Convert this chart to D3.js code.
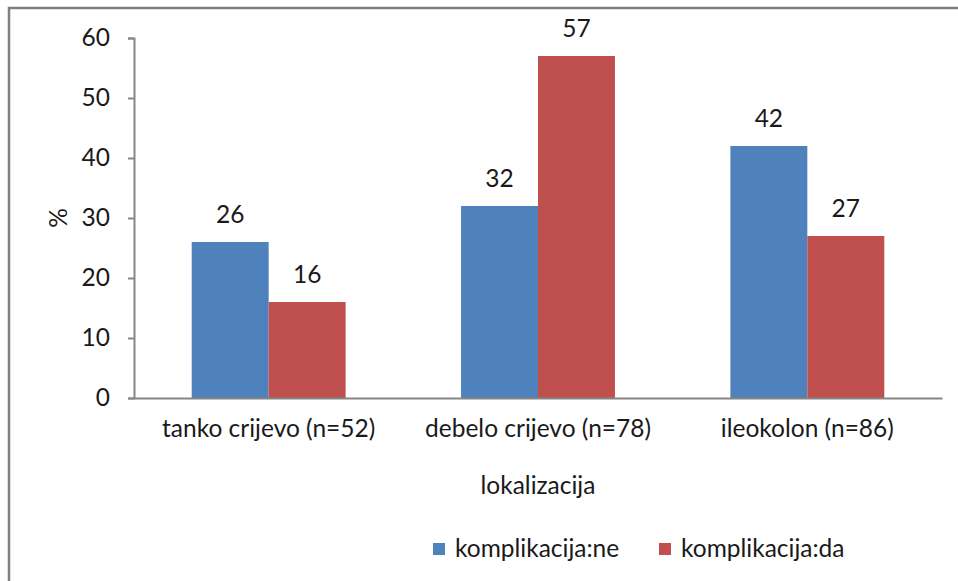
<!DOCTYPE html>
<html>
<head>
<meta charset="utf-8">
<script src="https://cdn.jsdelivr.net/npm/d3@7"></script>
<style>
  html, body { margin: 0; padding: 0; background: #fff; }
  svg { display: block; }
  text { font-family: Lato, "Open Sans", sans-serif; fill: #1a1a1a; }
</style>
</head>
<body>
<svg id="chart" width="958" height="581"></svg>
<script>
const categories = ["tanko crijevo (n=52)", "debelo crijevo (n=78)", "ileokolon (n=86)"];
const seriesNames = ["komplikacija:ne", "komplikacija:da"];
const seriesNe = [26, 32, 42];
const seriesDa = [16, 57, 27];
const yTicks = [0, 10, 20, 30, 40, 50, 60];
const colors = ["#4F81BD", "#C0504D"];
const yLabel = "%";
const xLabel = "lokalizacija";

const svg = d3.select("#chart");
const W = 958, H = 581;
const plot = { left: 134, right: 942, top: 38, bottom: 398 };
const fs = 24.5;

// outer frame (cut off at right and bottom)
svg.append("rect").attr("x", 9).attr("y", 8).attr("width", W + 20).attr("height", H + 20)
  .attr("fill", "#fff").attr("stroke", "#808080").attr("stroke-width", 2.5);

const x0 = d3.scaleBand().domain(categories).range([plot.left, plot.right]).paddingInner(0).paddingOuter(0);
const groupW = x0.bandwidth() * (2 / 3.5);
const x1 = d3.scaleBand().domain(seriesNames).range([0, groupW]).padding(0);
const y = d3.scaleLinear().domain([0, 60]).range([plot.bottom, plot.top]);

const data = categories.map((c, i) => ({ cat: c, vals: [seriesNe[i], seriesDa[i]] }));

// bars
const g = svg.append("g");
data.forEach(d => {
  const gx = x0(d.cat) + (x0.bandwidth() - groupW) / 2;
  d.vals.forEach((v, j) => {
    const bx = gx + x1(seriesNames[j]);
    g.append("rect")
      .attr("x", bx).attr("y", y(v))
      .attr("width", x1.bandwidth()).attr("height", y(0) - y(v))
      .attr("fill", colors[j]);
    g.append("text")
      .attr("x", bx + x1.bandwidth() / 2).attr("y", y(v) - 19)
      .attr("text-anchor", "middle").attr("font-size", fs)
      .text(v);
  });
});

// y axis
const yAxis = d3.axisLeft(y).tickValues(yTicks).tickSize(6).tickPadding(18);
const ya = svg.append("g").attr("transform", `translate(${plot.left},0)`).call(yAxis);
ya.select(".domain").attr("stroke", "#868686").attr("stroke-width", 2);
ya.selectAll(".tick line").attr("stroke", "#868686").attr("stroke-width", 2);
ya.selectAll(".tick text").attr("font-size", fs).attr("font-family", "Lato, sans-serif").attr("fill", "#1a1a1a");

// x axis
const xAxis = d3.axisBottom(x0).tickSize(0).tickPadding(22);
const xa = svg.append("g").attr("transform", `translate(0,${plot.bottom})`).call(xAxis);
xa.select(".domain").attr("stroke", "#868686").attr("stroke-width", 2);
xa.selectAll(".tick text").attr("font-size", fs).attr("font-family", "Lato, sans-serif").attr("fill", "#1a1a1a");

// axis titles
svg.append("text").attr("transform", `translate(67,${(plot.top + plot.bottom) / 2}) rotate(-90)`)
  .attr("text-anchor", "middle").attr("font-size", fs).text(yLabel);
svg.append("text").attr("x", (plot.left + plot.right) / 2).attr("y", 494)
  .attr("text-anchor", "middle").attr("font-size", fs).text(xLabel);

// legend
const legX = [433, 659];
seriesNames.forEach((s, i) => {
  svg.append("rect").attr("x", legX[i]).attr("y", 543).attr("width", 12).attr("height", 12).attr("fill", colors[i]);
  svg.append("text").attr("x", legX[i] + 22).attr("y", 557).attr("font-size", fs).text(s);
});
</script>
</body>
</html>
